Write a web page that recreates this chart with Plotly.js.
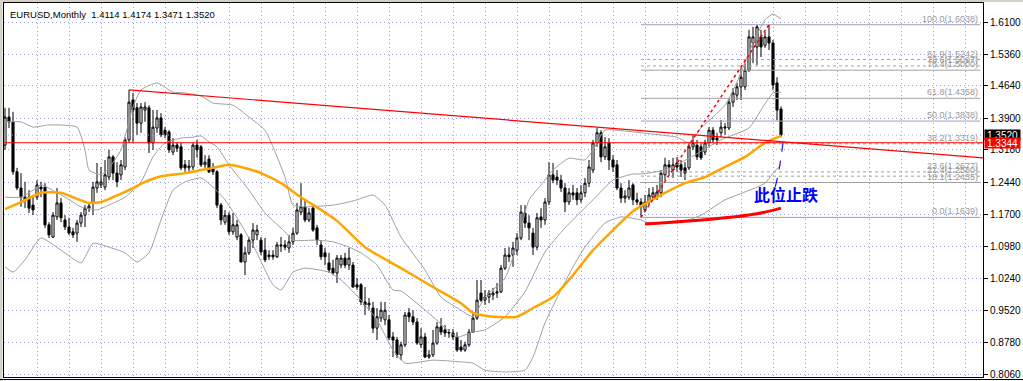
<!DOCTYPE html>
<html><head><meta charset="utf-8">
<script src="https://cdn.plot.ly/plotly-3.0.1.min.js"></script>
<style>html,body{margin:0;padding:0;background:#fff;}#chart{width:1023px;height:381px;}</style>
</head><body><div id="chart"></div>
<script>
// ---- monthly EURUSD candles ----
const openP = [
1.329,1.393,1.382,1.268,1.231,1.204,1.210,1.192,1.210,1.233,
1.233,1.147,1.119,1.165,1.197,1.158,1.142,1.131,1.128,1.151,
1.169,1.185,1.197,1.231,1.238,1.233,1.256,1.302,1.265,1.261,
1.279,1.341,1.432,1.414,1.379,1.409,1.414,1.334,1.368,1.391,
1.363,1.359,1.313,1.329,1.325,1.284,1.277,1.279,1.329,1.325,
1.284,1.297,1.277,1.268,1.192,1.153,1.169,1.131,1.119,1.124,
1.062,1.083,1.112,1.124,1.112,1.089,1.074,1.078,1.074,1.101,
1.101,1.094,1.108,1.128,1.176,1.188,1.158,1.185,1.140,1.101,
1.083,1.060,1.048,1.037,1.055,1.071,1.055,1.055,1.010,1.010,
0.971,0.964,0.957,0.911,0.934,0.930,0.930,0.891,0.884,0.850,
0.873,0.946,0.937,0.925,0.873,0.891,0.845,0.850,0.877,0.914,
0.907,0.902,0.900,0.891,0.868,0.861,0.873,0.902,0.934,0.991,
0.975,0.982,0.987,0.991,0.994,1.048,1.078,1.078,1.089,1.117,
1.174,1.151,1.128,1.096,1.165,1.158,1.199,1.261,1.256,1.249,
1.231,1.199,1.220,1.220,1.204,1.220,1.242,1.272,1.334,1.357,
1.302,1.334,1.295,1.284,1.231,1.208,1.210,1.238,1.204,1.199,
1.181,1.199,1.210,1.210,1.220,1.261,1.284,1.272,1.288,1.284,
1.277,1.277,1.325,1.329,1.325,1.313,1.334,1.363,1.345,1.357,
1.368,1.368,1.427,1.443,1.462,1.462,1.500,1.562,1.553,1.576,
1.557,1.576,1.562,1.471,1.4114];
const highP = [
1.414,1.414,1.405,1.277,1.265,1.245,1.226,1.215,1.249,1.245,
1.242,1.153,1.176,1.231,1.208,1.169,1.163,1.140,1.158,1.176,
1.192,1.197,1.245,1.288,1.279,1.295,1.318,1.306,1.290,1.295,
1.347,1.455,1.448,1.425,1.425,1.427,1.420,1.409,1.409,1.402,
1.370,1.363,1.345,1.336,1.334,1.295,1.295,1.334,1.341,1.329,
1.306,1.306,1.288,1.272,1.197,1.181,1.176,1.174,1.158,1.128,
1.096,1.119,1.151,1.147,1.119,1.117,1.089,1.089,1.108,1.119,
1.112,1.124,1.140,1.197,1.242,1.204,1.185,1.192,1.147,1.112,
1.094,1.083,1.067,1.078,1.078,1.083,1.094,1.062,1.025,1.014,
1.005,0.980,0.971,0.957,0.971,0.971,0.941,0.902,0.891,0.880,
0.948,0.957,0.952,0.934,0.911,0.900,0.861,0.907,0.925,0.934,
0.918,0.909,0.909,0.902,0.884,0.880,0.909,0.946,1.021,1.021,
0.998,0.998,1.003,1.014,1.055,1.094,1.096,1.108,1.128,1.192,
1.192,1.169,1.140,1.174,1.185,1.208,1.290,1.288,1.272,1.261,
1.242,1.231,1.238,1.231,1.238,1.254,1.295,1.341,1.368,1.363,
1.347,1.345,1.306,1.295,1.242,1.226,1.249,1.242,1.220,1.208,
1.215,1.231,1.233,1.238,1.272,1.300,1.295,1.300,1.302,1.295,
1.290,1.334,1.352,1.341,1.334,1.341,1.370,1.370,1.357,1.386,
1.379,1.436,1.459,1.471,1.505,1.516,1.592,1.599,1.603,1.592,
1.587,1.6038,1.569,1.484,1.4174];
const lowP = [
1.318,1.368,1.261,1.226,1.188,1.185,1.174,1.169,1.204,1.210,
1.140,1.117,1.117,1.158,1.153,1.135,1.124,1.117,1.108,1.142,
1.142,1.176,1.169,1.220,1.231,1.226,1.249,1.249,1.233,1.249,
1.272,1.334,1.336,1.352,1.357,1.382,1.311,1.318,1.357,1.347,
1.345,1.311,1.306,1.313,1.272,1.268,1.268,1.272,1.300,1.279,
1.277,1.265,1.261,1.185,1.147,1.147,1.124,1.124,1.112,1.062,
1.032,1.078,1.094,1.112,1.078,1.062,1.067,1.067,1.071,1.085,
1.089,1.083,1.101,1.124,1.169,1.153,1.153,1.131,1.101,1.067,
1.055,1.037,1.032,1.014,1.048,1.048,1.044,1.003,0.998,0.964,
0.941,0.952,0.900,0.884,0.925,0.918,0.884,0.845,0.843,0.838,
0.868,0.925,0.918,0.873,0.866,0.843,0.841,0.845,0.873,0.895,
0.891,0.889,0.884,0.857,0.857,0.857,0.868,0.900,0.930,0.971,
0.964,0.968,0.975,0.980,0.991,1.044,1.062,1.051,1.078,1.112,
1.140,1.112,1.078,1.089,1.140,1.147,1.192,1.242,1.238,1.222,
1.176,1.192,1.204,1.192,1.197,1.210,1.233,1.265,1.325,1.290,
1.295,1.272,1.268,1.226,1.197,1.197,1.204,1.192,1.192,1.1639,
1.176,1.192,1.204,1.204,1.210,1.249,1.261,1.254,1.268,1.256,
1.249,1.272,1.318,1.295,1.295,1.306,1.325,1.334,1.329,1.347,
1.352,1.363,1.416,1.432,1.432,1.455,1.496,1.516,1.512,1.530,
1.551,1.546,1.455,1.386,1.3471];
const closeP = [
1.393,1.382,1.268,1.231,1.210,1.210,1.185,1.181,1.238,1.229,
1.147,1.124,1.169,1.197,1.163,1.142,1.128,1.124,1.151,1.169,
1.185,1.190,1.233,1.245,1.245,1.261,1.302,1.265,1.245,1.284,
1.341,1.427,1.409,1.379,1.416,1.416,1.334,1.370,1.391,1.352,
1.352,1.318,1.329,1.322,1.277,1.277,1.281,1.329,1.318,1.284,
1.290,1.268,1.268,1.192,1.158,1.169,1.131,1.147,1.147,1.062,
1.083,1.112,1.135,1.135,1.085,1.067,1.078,1.074,1.101,1.099,
1.096,1.108,1.128,1.181,1.188,1.158,1.174,1.135,1.112,1.074,
1.074,1.044,1.037,1.071,1.071,1.055,1.071,1.005,1.005,0.971,
0.964,0.968,0.911,0.937,0.952,0.952,0.889,0.884,0.850,0.873,
0.941,0.937,0.925,0.877,0.891,0.845,0.850,0.877,0.914,0.902,
0.900,0.900,0.891,0.861,0.861,0.873,0.902,0.934,0.975,0.975,
0.982,0.991,0.991,0.994,1.048,1.078,1.074,1.094,1.117,1.176,
1.151,1.140,1.096,1.163,1.158,1.199,1.261,1.249,1.249,1.231,
1.199,1.220,1.215,1.204,1.220,1.242,1.279,1.334,1.357,1.302,
1.325,1.295,1.279,1.231,1.208,1.213,1.231,1.204,1.199,1.188,
1.199,1.215,1.220,1.222,1.265,1.284,1.279,1.284,1.279,1.272,
1.265,1.325,1.334,1.302,1.300,1.334,1.363,1.341,1.341,1.370,
1.370,1.427,1.448,1.462,1.484,1.500,1.576,1.576,1.599,1.553,
1.576,1.562,1.466,1.409,1.3520];

// ---- moving average (orange) ----
const maIdx = [0,4,9,14,17,21,24,27,32,35,39,45,49,52,56,59,64,69,74,79,83,90,99,107,114,117,122,128,132,137,142,147,152,157,163,170,175,180,185,190,194];
const maVal = [1.183,1.199,1.220,1.220,1.210,1.197,1.199,1.210,1.231,1.245,1.258,1.265,1.272,1.277,1.284,1.279,1.265,1.242,1.210,1.181,1.156,1.096,1.048,1.005,0.968,0.946,0.937,0.937,0.957,0.982,1.032,1.089,1.135,1.178,1.210,1.242,1.256,1.279,1.302,1.334,1.350];

// ---- Bollinger bands (gray) ----
const bbUpIdx = [0,4,7,11,18,20,21,24,26,29,32,34,38,42,45,49,52,57,61,65,67,70,72,75,82,85,88,92,95,99,105,109,114,117,120,125,128,131,134,137,141,145,147,150,155,162,168,171,174,177,180,183,187,190,192,194];
const bbUp = [1.382,1.382,1.370,1.375,1.370,1.318,1.272,1.261,1.277,1.318,1.416,1.455,1.471,1.450,1.448,1.441,1.425,1.420,1.393,1.363,1.325,1.256,1.192,1.188,1.192,1.197,1.204,1.215,1.192,1.119,1.044,0.982,0.952,0.937,0.982,1.025,1.101,1.204,1.238,1.272,1.299,1.295,1.318,1.363,1.361,1.354,1.347,1.334,1.368,1.393,1.420,1.473,1.562,1.615,1.628,1.617];
const bbMidIdx = [0,4,7,9,15,19,23,26,30,34,37,40,44,47,49,51,53,56,61,65,70,72,78,82,86,89,93,97,99,107,113,117,120,125,130,135,140,147,152,157,159,165,171,179,186,189,192,194];
const bbMid = [1.210,1.210,1.226,1.238,1.210,1.188,1.181,1.192,1.210,1.245,1.302,1.334,1.345,1.347,1.350,1.336,1.325,1.284,1.226,1.174,1.131,1.112,1.112,1.108,1.096,1.083,1.055,0.998,0.996,0.937,0.891,0.902,0.907,0.937,0.994,1.085,1.140,1.204,1.249,1.263,1.263,1.272,1.299,1.341,1.368,1.409,1.448,1.450];
const bbLowIdx = [0,2,5,9,14,19,22,26,30,33,36,39,42,45,49,52,55,58,62,67,69,72,75,81,84,89,93,97,100,107,114,117,120,125,130,132,135,139,142,145,150,154,159,161,169,174,180,185,190,192,194];
const bbLow = [1.051,1.039,1.067,1.117,1.089,1.060,1.105,1.096,1.083,1.062,1.083,1.158,1.226,1.245,1.254,1.233,1.204,1.163,1.101,1.010,0.998,1.039,1.048,1.039,1.021,0.975,0.930,0.861,0.831,0.838,0.834,0.831,0.815,0.811,0.815,0.845,0.923,0.998,1.051,1.096,1.151,1.165,1.158,1.151,1.153,1.169,1.204,1.222,1.242,1.265,1.284];

// ---- Fibonacci retracement ----
const fibPct = ['100.0','81.9','78.6','76.4','61.8','50.0','38.2','23.6','21.4','18.1','0.0'];
const fibPrice = [1.6038,1.5242,1.5097,1.5000,1.4358,1.3838,1.3319,1.2677,1.2580,1.2435,1.1639];
const fibIdx = [159,243.8];
const fibDiagIdx = [159,191];
const fibDiagVal = [1.1639,1.6038];

// ---- drawn objects ----
const trendIdx = [31,244.5];
const trendVal = [1.455,1.300];
const supportLevel = 1.3344;
const bidLevel = 1.3520;
const redMaIdx = [160,170,182,188,194];
const redMaVal = [1.149,1.155,1.165,1.172,1.185];
const blueIdx = [194.5,193.3,192.2];
const blueVal = [1.3344,1.262,1.222];
const noteText = '此位止跌';
const noteIdx = 195.25, noteVal = 1.2173;

const yTicks = [1.6100,1.5360,1.4640,1.3900,1.3180,1.2440,1.1700,1.0980,1.0240,0.9520,0.8780,0.8060];
const headerText = 'EURUSD,Monthly  1.4114 1.4174 1.3471 1.3520';

// ---- build ----
const X0 = -0.25, X1 = 244.5;
const idx = openP.map((_, i) => i);
const gridIdx = []; for (let g = 0; g <= 240; g += 8) gridIdx.push(g);

const traces = [];
fibPrice.forEach((p, k) => {
  const dotted = ['81.9','78.6','38.2','23.6','21.4'].includes(fibPct[k]);
  traces.push({type:'scatter', mode:'lines', x:fibIdx, y:[p,p],
    line:{color:'#a0a0a0', width:1, dash: dotted ? 'dot' : 'solid'}, hoverinfo:'skip'});
});
traces.push({type:'scatter', mode:'lines', x:[X0,X1], y:[bidLevel,bidLevel],
  line:{color:'#a8a8c8', width:1, dash:'1px,3px'}, hoverinfo:'skip'});
traces.push({type:'candlestick', x:idx, open:openP, high:highP, low:lowP, close:closeP,
  increasing:{line:{color:'#000', width:1}, fillcolor:'#fff'},
  decreasing:{line:{color:'#000', width:1}, fillcolor:'#000'},
  whiskerwidth:0, hoverinfo:'skip'});
[[bbUpIdx,bbUp],[bbMidIdx,bbMid],[bbLowIdx,bbLow]].forEach(([xs,ys]) => {
  traces.push({type:'scatter', mode:'lines', x:xs, y:ys,
    line:{color:'#a0a0a0', width:1, shape:'spline', smoothing:0.5}, hoverinfo:'skip'});
});
traces.push({type:'scatter', mode:'lines', x:maIdx, y:maVal,
  line:{color:'#ffa500', width:2.5, shape:'spline', smoothing:0.6}, hoverinfo:'skip'});
traces.push({type:'scatter', mode:'lines', x:[X0,X1], y:[supportLevel,supportLevel],
  line:{color:'#ff0000', width:1}, hoverinfo:'skip'});
traces.push({type:'scatter', mode:'lines', x:trendIdx, y:trendVal,
  line:{color:'#ff0000', width:1.2}, hoverinfo:'skip'});
traces.push({type:'scatter', mode:'lines', x:fibDiagIdx, y:fibDiagVal,
  line:{color:'#ff0000', width:1.5, dash:'dot'}, hoverinfo:'skip'});
traces.push({type:'scatter', mode:'lines', x:redMaIdx, y:redMaVal,
  line:{color:'#ff0000', width:3, shape:'spline'}, hoverinfo:'skip'});
traces.push({type:'scatter', mode:'lines', x:blueIdx, y:blueVal,
  line:{color:'#1a1aff', width:1.2, dash:'dash', shape:'spline'}, hoverinfo:'skip'});

const annotations = [];
fibPrice.forEach((p, k) => {
  annotations.push({x:243.6, y:p, xref:'x', yref:'y', xanchor:'right', yanchor:'bottom',
    text: fibPct[k] + '(' + p.toFixed(4) + ')', showarrow:false, borderpad:0,
    font:{family:'Liberation Sans, Arial, sans-serif', size:9, color:'#999999'}});
});
annotations.push({x:0.004, y:0.968, xref:'paper', yref:'paper', xanchor:'left', yanchor:'middle',
  text:headerText, showarrow:false, font:{family:'Liberation Sans, Arial, sans-serif', size:9.5, color:'#000'}});
annotations.push({x:1, y:bidLevel, xref:'paper', yref:'y', xanchor:'left', yanchor:'middle',
  text:bidLevel.toFixed(4), showarrow:false, bgcolor:'#000', width:35, height:10, borderpad:0, xshift:1,
  font:{family:'Liberation Sans, Arial, sans-serif', size:10, color:'#fff'}});
annotations.push({x:1, y:supportLevel, xref:'paper', yref:'y', xanchor:'left', yanchor:'middle',
  text:supportLevel.toFixed(4), showarrow:false, bgcolor:'#ff0000', width:35, height:10, borderpad:0, xshift:1,
  font:{family:'Liberation Sans, Arial, sans-serif', size:10, color:'#fff'}});
annotations.push({x:noteIdx, y:noteVal, xref:'x', yref:'y', xanchor:'center', yanchor:'middle',
  text:'<b>' + noteText + '</b>', showarrow:false,
  font:{family:'Noto Sans CJK SC, sans-serif', size:16, color:'#0000ff'}});

const layout = {
  width:1023, height:381,
  margin:{l:4, r:40, t:3, b:4},
  paper_bgcolor:'#fff', plot_bgcolor:'#fff',
  showlegend:false, hovermode:false, boxgap:0.25,
  xaxis:{range:[X0,X1], rangeslider:{visible:false}, tickvals:gridIdx, showticklabels:false, ticks:'',
    showgrid:true, gridcolor:'#9c9ce6', griddash:'1px,3px', gridwidth:1, zeroline:false,
    showline:true, linecolor:'#000', linewidth:1, mirror:true, fixedrange:true},
  yaxis:{range:[0.7995,1.6534], side:'right', tickvals:yTicks, ticktext:yTicks.map(v => v.toFixed(4)),
    ticks:'outside', ticklen:4, tickcolor:'#000', showgrid:true, gridcolor:'#9c9ce6', griddash:'1px,3px',
    zeroline:false, showline:true, linecolor:'#000', linewidth:1, mirror:true, fixedrange:true,
    tickfont:{family:'Liberation Sans, Arial, sans-serif', size:10, color:'#000'}},
  annotations:annotations,
  shapes:[
    {type:'rect', xref:'paper', yref:'paper', x0:-4/979, x1:-1.5/979, y0:-4/374, y1:1+3/374,
      fillcolor:'#d4d0c8', line:{width:0}},
    {type:'rect', xref:'paper', yref:'paper', x0:-4/979, x1:1019/979, y0:1+1/374, y1:1+3/374,
      fillcolor:'#d4d0c8', line:{width:0}},
    {type:'line', xref:'paper', yref:'paper', x0:-4/979, x1:1019/979, y0:-2.5/374, y1:-2.5/374,
      line:{color:'#000', width:1}}
  ]
};
Plotly.newPlot('chart', traces, layout, {staticPlot:true, displayModeBar:false});
</script></body></html>
